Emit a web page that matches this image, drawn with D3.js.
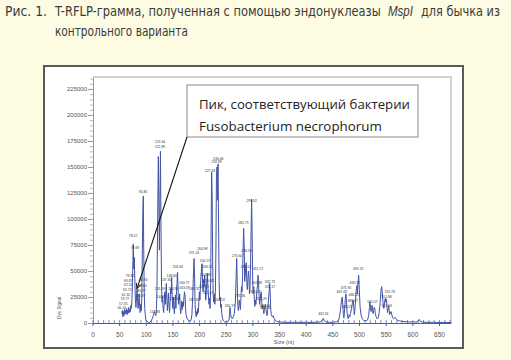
<!DOCTYPE html>
<html><head><meta charset="utf-8">
<script src="https://cdn.jsdelivr.net/npm/d3@7"></script>
<style>
html,body{margin:0;padding:0;background:#fdfbe2;}
svg{display:block;}
</style></head>
<body>
<svg id="chart" width="511" height="360"></svg>
<script>
// ---------- data ----------
const traceSize = [55,56,57,58,59,60,61,62,63,64,65,66,67,68,69,70,71,72,73,74,75,76.5,77.5,78.5,79.5,80.5,81.5,82.5,83.5,84.5,85.5,86.5,87.5,88.5,89.5,90.5,91.5,92.5,93.5,94.5,95.3,96,97,98,99,100,102,105,108,110,112,114,116,117.5,119,120,121,122,123.5,124.5,125.5,126.5,127.5,128.5,129.5,130.5,131.5,132.5,133.5,134.5,135.5,136.5,137.5,138.5,139.5,140.5,141.5,142.5,143.5,144.5,145.5,146.5,147.5,148.5,149.5,150.5,151.5,152.5,153.5,154.5,155.5,156.5,157.5,158.5,159.5,160.5,161.5,162.5,163.5,164.5,165.5,166.5,167.5,168.5,169.5,170.5,171.5,172.5,173.5,174.5,175.5,177,179,181,183,185,186.5,188,189.5,190.5,191.5,192.5,193.5,194.5,195.5,196.5,197.5,198.5,199.5,200.5,201.5,202.5,203.5,204.5,205.5,206.5,207.5,208.5,209.5,210.5,211.5,212.5,213.5,214.5,215.5,216.5,217.5,218.5,219.5,220.5,221.5,222.5,223.5,224.5,225.5,226.5,227.5,228.5,229.5,230.5,231.5,232.5,233.5,234.5,235.5,236.5,237.5,238.5,239.5,240.5,241.5,242.5,244,246,248,251,254,256,257,258,259,260.5,262,264,266,268,269.5,270.5,271.5,272.5,273.5,274.5,275.5,276.5,277.5,278.5,279.5,280.5,281.5,282.5,283.5,284.5,285.5,286.5,287.5,288.5,289.5,290.5,291.5,292.5,293.5,294.5,295.5,296.5,297.5,298.5,299.5,300.5,301.5,302.5,303.5,304.5,305.5,306.5,307.5,308.5,309.5,310.5,311.5,312.5,313.5,314.5,315.5,316.5,317.5,318.5,319.5,320.5,321.5,322.5,323.5,324.5,325.5,326.5,327.5,328.5,329.5,330.5,331.5,332.5,333.5,334.5,335.5,337,339,341,343,346,350,355,360,370,380,390,400,410,420,428,431,433,435,438,445,452,458,461,463,465,467,468.5,469.5,470.5,471.5,472.5,473.5,474.5,475.5,476.5,477.5,478.5,480,481.5,482.5,484,486,487.5,489,490,491,492,493.5,495,496,497,498,499.3,500.5,502,504,506,509,513,516,518,519.5,520.5,521.5,522.5,523.5,524.5,525.5,526.5,527.5,528.5,529.5,530.5,532,534,536,537.5,539,540.5,541.5,542.5,543.5,544.5,545.5,546.5,547.5,548.5,549.5,550.5,551.5,552.5,553.5,554.5,555.5,556.5,557.5,558.5,560,561.5,563,565,567,569,572,576,581,588,595,602,608,611,613,615,620,630,640,650,660,672];
const traceSignal = [9000,12000,6000,11000,7000,13000,8500,12000,9000,14000,8000,12500,9500,15000,10000,13000,11000,17000,14000,22000,40000,76000,52000,63000,38000,22000,15000,24000,33000,22000,14000,20000,28000,16000,10000,18000,12000,25000,70000,110000,122000,75000,30000,14000,8000,3000,1500,500,800,2000,4000,7000,11000,9000,7000,14000,35000,90000,160000,110000,70000,120000,165000,90000,35000,20000,26000,14000,10000,20000,30000,18000,28000,38000,22000,12000,20000,29000,17000,10000,20000,33000,28000,44000,26000,14000,25000,16000,9000,18000,27000,14000,30000,38000,49000,32000,18000,22000,28000,15000,9000,14000,21000,13000,20000,16000,24000,30000,27000,15000,8000,5000,3000,2000,1500,3000,8000,25000,50000,62000,42000,18000,9000,6000,11000,8000,14000,10000,20000,30000,22000,35000,45000,52000,57000,38000,30000,42000,35000,46000,32000,22000,30000,40000,48000,34000,26000,18000,24000,14000,30000,90000,145000,120000,55000,25000,20000,28000,18000,30000,70000,140000,150000,118000,153000,95000,40000,22000,25000,15000,18000,9000,4000,2000,1000,800,1200,3000,8000,15000,9000,5000,4000,6000,9000,20000,45000,62000,40000,18000,12000,16000,22000,17000,13000,25000,35000,30000,45000,70000,91000,75000,40000,45000,55000,58000,38000,32000,42000,50000,43000,28000,35000,55000,90000,119000,85000,40000,28000,35000,24000,16000,22000,18000,25000,32000,36000,46000,38000,25000,18000,22000,28000,30000,20000,14000,17000,12000,9000,13000,16000,18000,13000,9000,7000,12000,18000,25000,31000,38000,26000,12000,8000,6000,7000,4000,2500,1500,1000,800,700,600,800,600,700,600,800,1000,3000,4500,2000,800,600,800,1200,2000,5000,12000,21000,25000,18000,8000,5000,9000,18000,25000,28000,20000,10000,6000,4000,8000,6000,9000,14000,19000,22000,16000,8000,11000,22000,33000,36000,28000,38000,46000,32000,15000,7000,4000,2500,2000,3000,7000,15000,20500,15000,11000,14000,17000,12000,9000,12000,15000,14000,9000,6000,4000,5000,9000,16000,26000,33000,35000,30000,22000,17000,14000,18000,22000,24000,20000,23000,15000,10000,14000,17000,12000,8000,9500,11000,8000,5000,4000,5500,4500,2500,2000,1500,1200,1000,1100,800,1800,3500,1500,800,600,700,500,600,450];

// peak labels: text, size position, signal position
const peakLabelText = ["78.12","79.69","73.82","69.85","67.32","65.72","62.32","59.77","57.35","56.14","84.94","82.60","80.97","86.97","94.80","117.83","125.64","122.89","131.59","137.35","144.57","148.66","150.95","158.34","160.77","163.47","155.43","191.24","186.70","187.43","204.98","200.57","208.23","203.49","210.82","207.51","212.47","234.53","227.63","236.46","232.89","260.97","270.60","273.36","282.75","286.53","289.07","299.92","307.38","305.47","311.72","315.29","332.79","331.17","320.45","325.76","432.16","467.48","475.90","480.21","486.52","488.37","496.37","495.92","521.07","551.86","555.76","557.13"];
const peakLabelSize = [76.5,79.7,70.3,67.2,67.2,65.3,62.8,61,57.8,54.8,95,93.5,92,91,94.7,117,126.6,126.6,126.6,137.9,129.8,148.6,151.6,159.8,172.2,172.2,154.8,190.4,190.4,190.4,206,211,215,213,218.6,209,217,238,220.4,236,233,258,271.6,276.7,283,289,288,298.6,308,305,310.5,317,333,333,323.6,324,433,467.5,475.6,478,490,488,492,498.6,525,551.7,558,552];
const peakLabelSignal = [83000,70900,44000,39700,35600,31000,26200,22100,17300,13500,40000,35000,30000,25000,125000,9600,172800,168000,31700,40400,24000,44500,31700,53200,37200,32400,22000,66300,31700,21000,70200,58600,53000,45000,39400,33600,28000,21000,145000,157000,153500,15400,63700,24700,95000,68500,53000,116000,37800,28500,51000,22000,38200,33600,15700,13000,7700,28500,32700,14000,26000,20000,37200,51000,19000,23700,28500,15700];

const yTicks = [0,25000,50000,75000,100000,125000,150000,175000,200000,225000];
const xTicks = [0,50,100,150,200,250,300,350,400,450,500,550,600,650];

const titleNum = "Рис. 1.";
const titlePart1 = "T-RFLP-грамма, полученная с помощью эндонуклеазы";
const titleItalic = "MspI";
const titlePart2 = "для бычка из";
const titleLine2 = "контрольного варианта";
const annotLine1 = "Пик, соответствующий бактерии";
const annotLine2 = "Fusobacterium necrophorum";
const annotTarget = {size: 83.5, signal: 33000};
const xLabel = "Size (nt)";
const yLabel = "Dye Signal";

// ---------- drawing ----------
const svg = d3.select("#chart");
const L = 93, R = 451, T = 77, B = 323;
const x = d3.scaleLinear().domain([0, 672.5]).range([92.5, R]);
const y = d3.scaleLinear().domain([0, 236500]).range([B, T]);

// background
svg.append("rect").attr("width",511).attr("height",360).attr("fill","#fdfbe2");

// text squeezed horizontally to a target width (real transform, so its box is honest)
function fitText(str, xx, yy, len, fam, size, fill, italic){
  const t = svg.append("text").attr("x",0).attr("y",0).attr("font-family",fam)
    .attr("font-size",size).attr("fill",fill).text(str);
  if (italic) t.attr("font-style","italic");
  const w = t.node().getComputedTextLength();
  t.attr("transform",`translate(${xx},${yy}) scale(${len/w},1)`);
  return t;
}

// title
const tfont = "'Liberation Sans Narrow','DejaVu Sans Condensed','Liberation Sans',sans-serif";
fitText(titleNum, 5, 16, 42, tfont, 14, "#3a3a3a", false);
fitText(titlePart1, 55, 16, 326, tfont, 14, "#3a3a3a", false);
fitText(titleItalic, 388, 16, 25, "'Liberation Sans',sans-serif", 14, "#3a3a3a", true);
fitText(titlePart2, 421, 16, 79, tfont, 14, "#3a3a3a", false);
fitText(titleLine2, 55, 36, 133, tfont, 14, "#3a3a3a", false);

// frame
svg.append("rect").attr("x",44).attr("y",66).attr("width",419).attr("height",282)
  .attr("fill","#ffffff").attr("stroke","#5a5a5a").attr("stroke-width",2);

// plot border (top + right)
svg.append("path").attr("d",`M${L},${T}H${R}V${B}`).attr("fill","none")
  .attr("stroke","#c4c4c4").attr("stroke-width",1.5);

// y axis
const yMinor = d3.range(0, 236500, 5000);
const gyMinor = svg.append("g").attr("transform",`translate(${L},0)`)
  .call(d3.axisLeft(y).tickValues(yMinor).tickSize(3).tickFormat(""));
gyMinor.select(".domain").remove();
gyMinor.selectAll("line").attr("stroke","#9a9a9a").attr("stroke-width",0.7);
const gy = svg.append("g").attr("transform",`translate(${L},0)`)
  .call(d3.axisLeft(y).tickValues(yTicks).tickSize(5).tickPadding(1).tickFormat(d3.format("d")).tickSizeOuter(0));
gy.select(".domain").attr("stroke","#9a9a9a");
gy.selectAll("line").attr("stroke","#9a9a9a");
gy.selectAll("text").attr("font-family","'Liberation Sans',Arial,sans-serif").attr("font-size",6).attr("fill","#555");

// x axis
const xMinor = d3.range(0, 673, 10);
const gxMinor = svg.append("g").attr("transform",`translate(0,${B})`)
  .call(d3.axisBottom(x).tickValues(xMinor).tickSize(-3).tickFormat(""));
gxMinor.select(".domain").remove();
gxMinor.selectAll("line").attr("stroke","#4a5aa8").attr("stroke-width",0.7);
const gx = svg.append("g").attr("transform",`translate(0,${B})`)
  .call(d3.axisBottom(x).tickValues(xTicks).tickSize(3).tickPadding(6).tickSizeOuter(0));
gx.select(".domain").attr("stroke","#4a5aa8");
gx.selectAll("line").attr("stroke","#4a5aa8");
gx.selectAll("text").attr("font-family","'Liberation Sans',Arial,sans-serif").attr("font-size",6.5).attr("fill","#555");

// axis titles
svg.append("text").attr("transform","translate(61,308) rotate(-90)").attr("text-anchor","middle")
  .attr("font-family","'Liberation Sans',Arial,sans-serif").attr("font-size",4.5).attr("fill","#555").text(yLabel);
svg.append("text").attr("x",284).attr("y",344).attr("text-anchor","middle")
  .attr("font-family","'Liberation Sans',Arial,sans-serif").attr("font-size",5.5).attr("fill","#555").text(xLabel);

// trace
const pts = traceSize.map((s,i)=>[s, traceSignal[i]]);
svg.append("path").datum(pts)
  .attr("d", d3.line().x(d=>x(d[0])).y(d=>y(d[1])))
  .attr("fill","none").attr("stroke","#4153a8").attr("stroke-width",1).attr("stroke-linejoin","round");

// peak labels
svg.append("g").selectAll("text").data(peakLabelText).join("text")
  .attr("x",(d,i)=>x(peakLabelSize[i])).attr("y",(d,i)=>y(peakLabelSignal[i]))
  .attr("text-anchor","middle").attr("font-family","'Liberation Sans',Arial,sans-serif")
  .attr("font-size",3.4).attr("fill","#333").text(d=>d);

// annotation box
const bx = 187, by = 85, bw = 231, bh = 52;
svg.append("rect").attr("x",bx).attr("y",by).attr("width",bw).attr("height",bh)
  .attr("fill","#ffffff").attr("stroke","#8a8a8a").attr("stroke-width",1);
const afont = "'Open Sans','Noto Sans',sans-serif";
fitText(annotLine1, 199, 109, 211, afont, 13, "#222", false);
fitText(annotLine2, 199, 131, 183, afont, 13, "#222", false);

// arrow
const tx = x(annotTarget.size), ty = y(annotTarget.signal);
svg.append("line").attr("x1",bx).attr("y1",by+bh).attr("x2",tx).attr("y2",ty)
  .attr("stroke","#111").attr("stroke-width",1.1);
const ang = Math.atan2(ty-(by+bh), tx-bx);
const ah = 6;
svg.append("path").attr("d",
  `M${tx - ah*Math.cos(ang-0.45)},${ty - ah*Math.sin(ang-0.45)}L${tx},${ty}L${tx - ah*Math.cos(ang+0.45)},${ty - ah*Math.sin(ang+0.45)}`)
  .attr("fill","none").attr("stroke","#111").attr("stroke-width",1);
</script>
</body></html>
